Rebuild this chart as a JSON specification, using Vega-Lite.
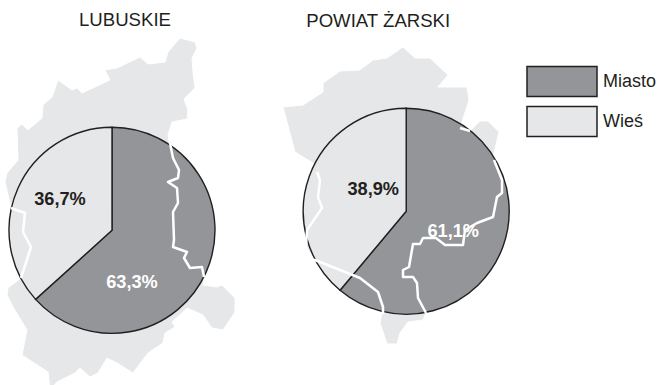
{
"$schema":"https://vega.github.io/schema/vega-lite/v6.json",
"width":658,"height":385,"padding":0,"autosize":{"type":"none"},
"background":"white",
"config":{"view":{"stroke":null},"font":"Liberation Sans"},
"datasets":{
"shares":[
{"panel":"LUBUSKIE","category":"Miasto","share":63.3,"rank":1,"label":"63,3%"},
{"panel":"LUBUSKIE","category":"Wieś","share":36.7,"rank":2,"label":"36,7%"},
{"panel":"POWIAT ŻARSKI","category":"Miasto","share":61.1,"rank":1,"label":"61,1%"},
{"panel":"POWIAT ŻARSKI","category":"Wieś","share":38.9,"rank":2,"label":"38,9%"}
],
"maps":[
{"type":"Feature","properties":{"name":"LUBUSKIE"},"geometry":{"type":"Polygon","coordinates":[[[180,38],[195,42],[197,48],[192,58],[193,72],[195,88],[184,99],[188,110],[187,119],[172,122],[168,135],[170,143],[173,158],[179,170],[178,178],[168,182],[177,188],[178,203],[173,212],[174,240],[173,247],[187,252],[184,258],[190,268],[202,267],[204,277],[203,285],[217,287],[222,285],[235,298],[235,312],[223,330],[212,328],[203,315],[187,308],[183,312],[172,322],[175,327],[165,333],[163,343],[148,353],[133,373],[117,363],[107,358],[98,373],[90,377],[80,368],[75,373],[57,382],[50,390],[48,372],[22,355],[27,330],[13,307],[7,295],[8,288],[21,278],[31,247],[23,232],[25,213],[11,208],[5,182],[7,173],[18,160],[17,128],[22,124],[28,130],[42,118],[43,105],[52,97],[58,80],[72,90],[77,88],[82,93],[110,80],[105,70],[117,68],[140,57],[148,64],[165,62],[168,52],[180,38]]]}},
{"type":"Feature","properties":{"name":"POWIAT ŻARSKI"},"geometry":{"type":"Polygon","coordinates":[[[403,47],[415,58],[430,58],[448,75],[438,87],[467,87],[469,100],[460,128],[470,131],[480,121],[488,121],[499,132],[493,157],[502,180],[502,193],[497,197],[493,217],[477,223],[465,230],[463,245],[445,245],[436,238],[423,238],[420,244],[413,244],[409,267],[403,270],[403,277],[413,277],[417,283],[418,298],[426,313],[423,320],[408,322],[400,333],[397,344],[387,344],[380,323],[383,307],[378,292],[360,278],[315,260],[306,247],[307,230],[322,208],[318,197],[320,173],[313,163],[295,152],[283,107],[303,105],[323,92],[323,83],[340,71],[360,70],[373,60],[387,58],[403,47]]]}}
],
"borders":[
{"type":"Feature","properties":{"name":"a"},"geometry":{"type":"LineString","coordinates":[[169,138],[170,143],[173,158],[179,170],[178,178],[168,182],[177,188],[178,203],[173,212],[174,240],[173,247],[187,252],[184,258],[190,268],[202,267],[204,277]]}},
{"type":"Feature","properties":{"name":"b"},"geometry":{"type":"LineString","coordinates":[[11,208],[25,213],[23,232],[31,247],[21,278]]}},
{"type":"Feature","properties":{"name":"c"},"geometry":{"type":"LineString","coordinates":[[460,128],[470,131]]}},
{"type":"Feature","properties":{"name":"d"},"geometry":{"type":"LineString","coordinates":[[494,160],[502,180],[502,193],[497,197],[493,217],[477,223],[465,230],[463,245],[445,245],[436,238],[423,238],[420,244],[413,244],[409,267],[403,270],[403,277],[413,277],[417,283],[418,298],[426,313]]}},
{"type":"Feature","properties":{"name":"e"},"geometry":{"type":"LineString","coordinates":[[317,172],[320,180],[318,197],[322,208],[307,230],[306,247],[312,260],[315,260],[360,278],[378,292],[383,307],[383,314]]}}
]
},
"layer":[
{"data":{"name":"maps","format":{"type":"json"}},
 "mark":{"type":"geoshape","fill":"#e6e7e8","stroke":"#ffffff","strokeWidth":1,"strokeJoin":"round"},
 "projection":{"type":"identity","scale":1,"translate":[0,0]}},
{"data":{"name":"shares"},"transform":[{"filter":"datum.panel==='LUBUSKIE'"}],
 "mark":{"type":"arc","outerRadius":103,"stroke":"#231f20","strokeWidth":1.4},
 "encoding":{
  "x":{"field":"panel","type":"nominal","axis":null,"scale":{"type":"point","domain":["LUBUSKIE","POWIAT ŻARSKI"],"range":[112,406.2],"padding":0}},
  "y":{"field":"panel","type":"nominal","axis":null,"scale":{"type":"point","domain":["LUBUSKIE","POWIAT ŻARSKI"],"range":[230.3,211.3],"padding":0}},
  "theta":{"field":"share","type":"quantitative","stack":true,"scale":{"domain":[0,100],"range":[0,6.2832]}},
  "order":{"field":"rank"},
  "color":{"field":"category","type":"nominal","scale":{"domain":["Miasto","Wieś"],"range":["#939598","#e6e7e8"]},
   "legend":{"title":null,"orient":"none","legendX":543.5,"legendY":63,"symbolType":"M-2,-0.86H2V0.86H-2Z","symbolSize":1225,"symbolStrokeColor":"#231f20","symbolStrokeWidth":1.5,"symbolOpacity":1,"rowPadding":3,"labelFontSize":18,"labelColor":"#231f20","labelOffset":22.5}}
 }},
{"data":{"name":"shares"},"transform":[{"filter":"datum.panel==='POWIAT ŻARSKI'"}],
 "mark":{"type":"arc","outerRadius":103,"stroke":"#231f20","strokeWidth":1.4},
 "encoding":{
  "x":{"field":"panel","type":"nominal","axis":null},
  "y":{"field":"panel","type":"nominal","axis":null},
  "theta":{"field":"share","type":"quantitative","stack":true,"scale":{"domain":[0,100],"range":[0,6.2832]}},
  "order":{"field":"rank"},
  "color":{"field":"category","type":"nominal"}
 }},
{"data":{"name":"borders","format":{"type":"json"}},
 "mark":{"type":"geoshape","filled":false,"stroke":"#ffffff","strokeWidth":2.5,"strokeJoin":"round"},
 "projection":{"type":"identity","scale":1,"translate":[0,0]}},
{"data":{"name":"shares"},"transform":[{"filter":"datum.label==='36,7%'"}],"mark":{"type":"text","fontWeight":"bold","fontSize":18.2,"fill":"#231f20","dx":-52,"dy":-30},
 "encoding":{"x":{"field":"panel","type":"nominal"},"y":{"field":"panel","type":"nominal"},"text":{"field":"label"}}},
{"data":{"name":"shares"},"transform":[{"filter":"datum.label==='63,3%'"}],"mark":{"type":"text","fontWeight":"bold","fontSize":18.2,"fill":"#ffffff","dx":20,"dy":53},
 "encoding":{"x":{"field":"panel","type":"nominal"},"y":{"field":"panel","type":"nominal"},"text":{"field":"label"}}},
{"data":{"name":"shares"},"transform":[{"filter":"datum.label==='38,9%'"}],"mark":{"type":"text","fontWeight":"bold","fontSize":18.2,"fill":"#231f20","dx":-33,"dy":-21},
 "encoding":{"x":{"field":"panel","type":"nominal"},"y":{"field":"panel","type":"nominal"},"text":{"field":"label"}}},
{"data":{"name":"shares"},"transform":[{"filter":"datum.label==='61,1%'"}],"mark":{"type":"text","fontWeight":"bold","fontSize":18.2,"fill":"#ffffff","dx":47,"dy":21},
 "encoding":{"x":{"field":"panel","type":"nominal"},"y":{"field":"panel","type":"nominal"},"text":{"field":"label"}}},
{"data":{"name":"shares"},"transform":[{"filter":"datum.label==='63,3%'"}],"mark":{"type":"text","fontSize":18.6,"fill":"#231f20","dx":13,"dy":-210},
 "encoding":{"x":{"field":"panel","type":"nominal"},"y":{"field":"panel","type":"nominal"},"text":{"field":"panel"}}},
{"data":{"name":"shares"},"transform":[{"filter":"datum.label==='61,1%'"}],"mark":{"type":"text","fontSize":18.6,"fill":"#231f20","dx":-28,"dy":-190},
 "encoding":{"x":{"field":"panel","type":"nominal"},"y":{"field":"panel","type":"nominal"},"text":{"field":"panel"}}}
]
}
